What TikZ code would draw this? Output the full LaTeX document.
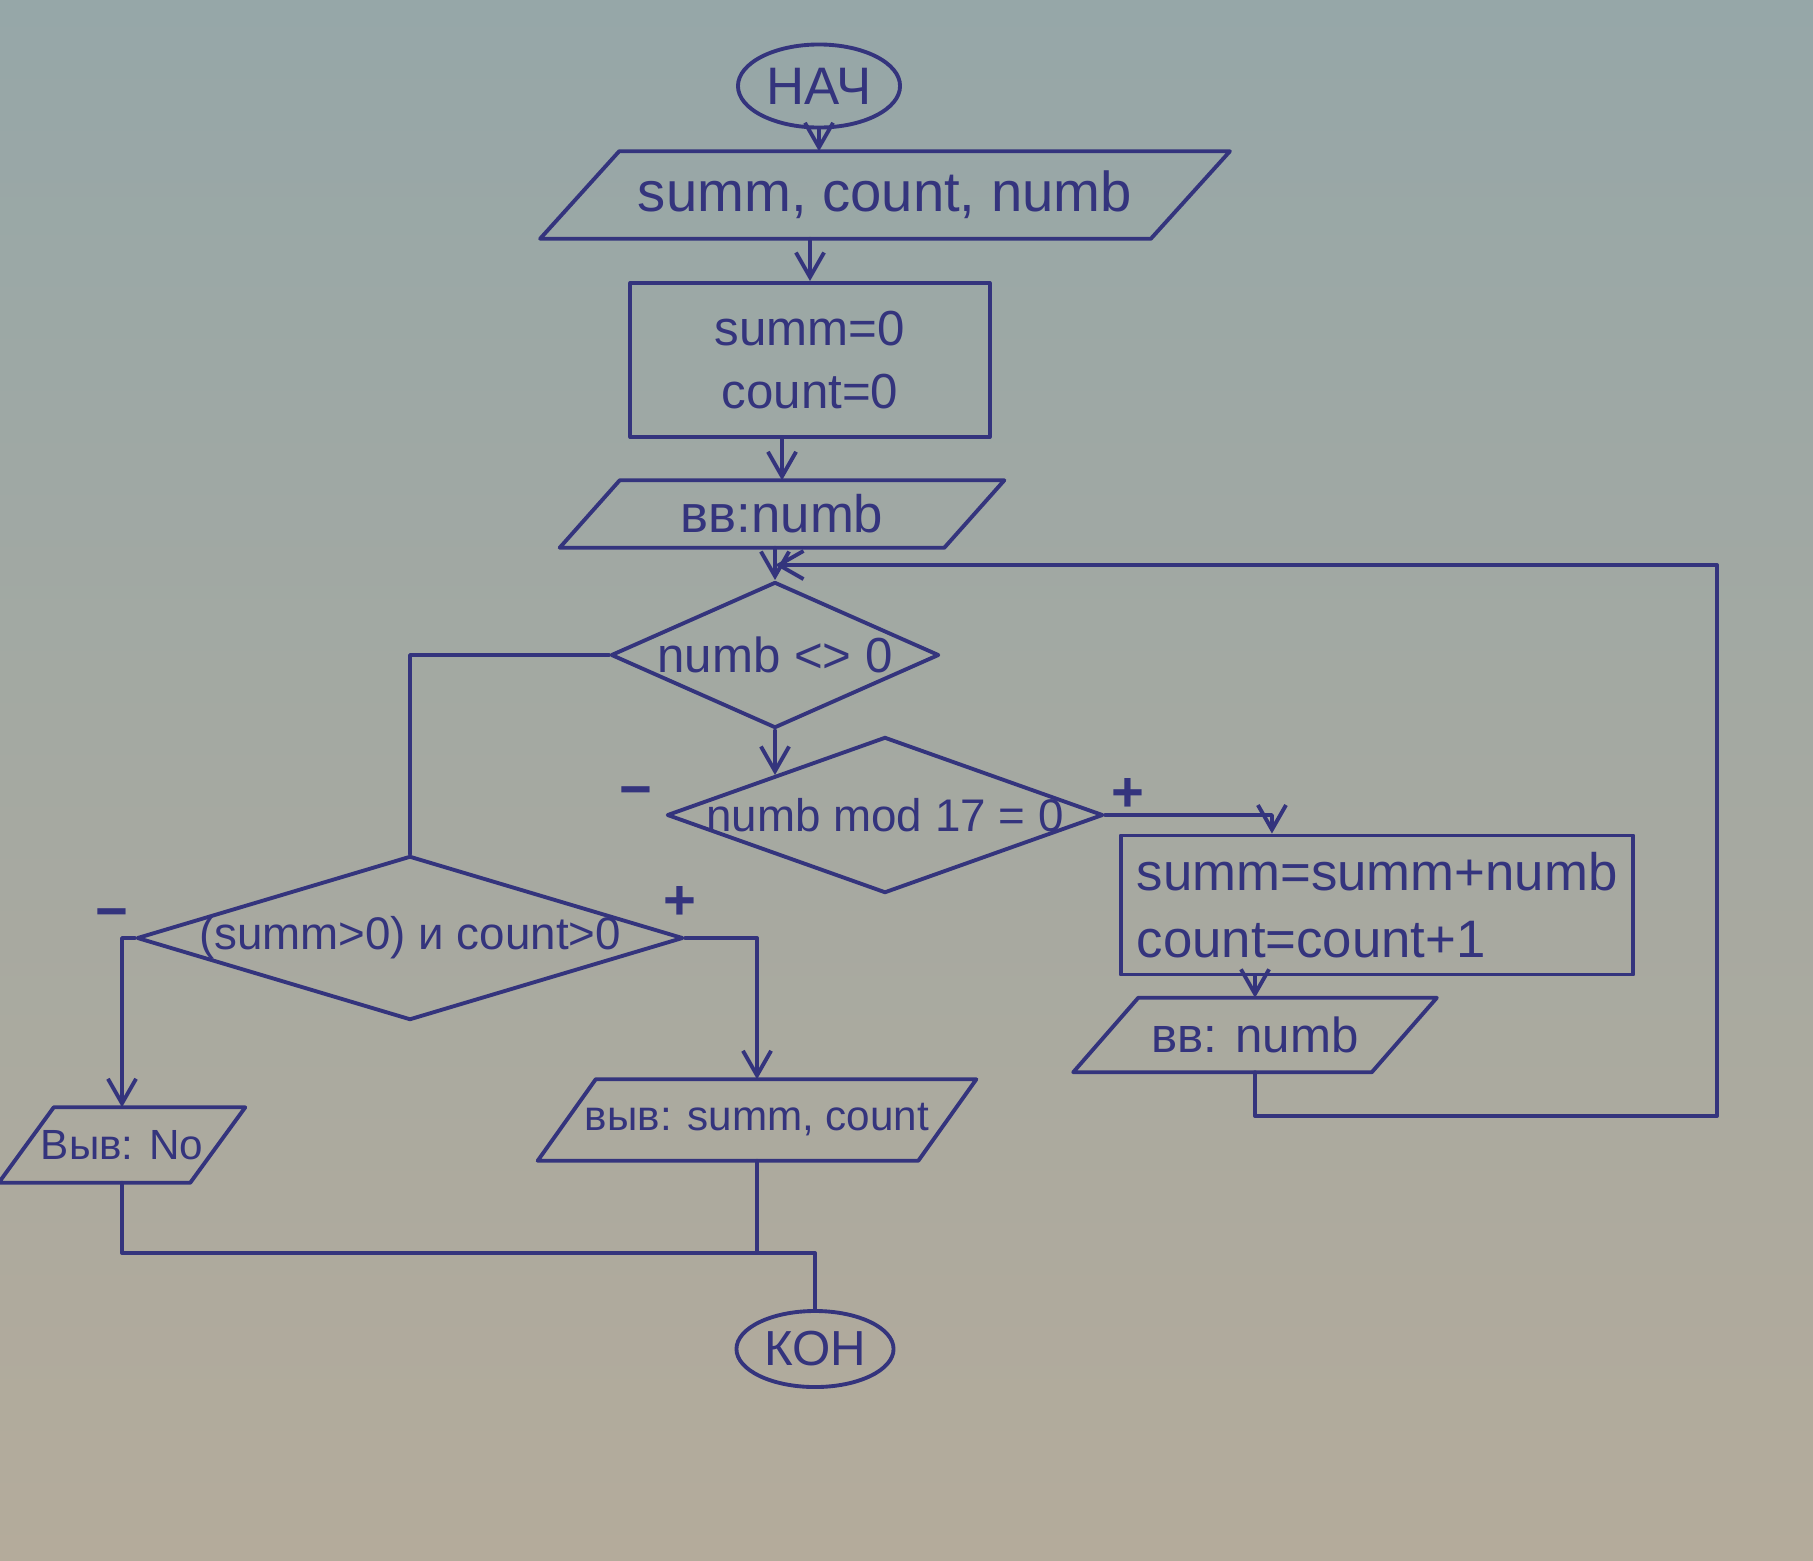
\documentclass[tikz,border=0pt]{standalone}
\usepackage{fontspec}
\setmainfont{Liberation Sans}
\usetikzlibrary{shapes.geometric,arrows.meta}
\definecolor{ink}{RGB}{52,52,125}
\definecolor{bgtop}{RGB}{150,167,168}
\definecolor{bgmid}{RGB}{206,212,206}
\definecolor{bgbot}{RGB}{180,171,155}
\tikzset{
 pen/.style={draw=ink, line width=1.1pt, line join=round, line cap=round},
 arr/.style={pen, -{Straight Barb[length=7pt,width=8pt]}},
 term/.style={ellipse, pen, text=ink, inner sep=0pt},
 procbox/.style={rectangle, pen, text=ink, inner sep=4pt},
 iobox/.style={rectangle, draw=none, text=ink, inner sep=0pt},
 decide/.style={diamond, pen, text=ink, inner sep=0pt},
 sign/.style={text=ink, inner sep=0pt, font=\fontsize{16}{16}\selectfont\bfseries},
}
\newcommand\iopara[2]{\draw[pen] ([xshift=#2]#1.north west) -- (#1.north east) -- ([xshift=-#2]#1.south east) -- (#1.south west) -- cycle;}
\newcommand\dmtxt[1]{\makebox[0pt]{#1}}
\begin{document}
\begin{tikzpicture}[x=0.01cm,y=-0.01cm]
\shade[top color=bgtop, middle color=bgmid, bottom color=bgbot] (0,0) rectangle (1813,1560);
\useasboundingbox (0,0) rectangle (1813,1560);

\node[term, minimum width=1.62cm, minimum height=0.83cm, font=\fontsize{15}{18}\selectfont] (start) at (819,86) {НАЧ};
\node[iobox, minimum width=6.88cm, minimum height=0.86cm, font=\fontsize{16}{19}\selectfont] (in1) at (885,195) {summ, count, numb};
\iopara{in1}{0.79cm}
\node[procbox, minimum width=3.59cm, minimum height=1.54cm, align=center, font=\fontsize{14}{18}\selectfont] (init) at (810,360) {summ=0\\count=0};
\node[iobox, minimum width=4.43cm, minimum height=0.66cm, font=\fontsize{15}{18}\selectfont] (in2) at (782,514) {вв:numb};
\iopara{in2}{0.6cm}
\node[decide, minimum width=3.28cm, minimum height=1.46cm, font=\fontsize{14}{17}\selectfont] (d1) at (775,655) {\dmtxt{numb <> 0}};
\node[decide, minimum width=4.36cm, minimum height=1.56cm, font=\fontsize{13}{16}\selectfont] (d2) at (885,815) {\dmtxt{numb mod 17 = 0}};
\node[procbox, minimum width=5.12cm, minimum height=1.39cm, align=left, font=\fontsize{15}{19}\selectfont] (proc) at (1377,905) {summ=summ+numb\\count=count+1};
\node[iobox, minimum width=3.62cm, minimum height=0.73cm, font=\fontsize{14}{17}\selectfont] (in3) at (1255,1035) {вв: numb};
\iopara{in3}{0.65cm}
\node[decide, minimum width=5.46cm, minimum height=1.64cm, font=\fontsize{13}{16}\selectfont] (d3) at (410,938) {\dmtxt{(summ>0) и count>0}};
\node[iobox, minimum width=2.45cm, minimum height=0.74cm, font=\fontsize{12}{15}\selectfont] (out1) at (122,1145) {Выв: No};
\iopara{out1}{0.55cm}
\node[iobox, minimum width=4.37cm, minimum height=0.8cm, font=\fontsize{12}{15}\selectfont] (out2) at (757,1120) {выв: summ, count};
\iopara{out2}{0.58cm}
\node[term, minimum width=1.57cm, minimum height=0.76cm, font=\fontsize{14}{17}\selectfont] (end) at (815,1349) {КОН};

\node[sign] (m2) at (636,798) {−};
\node[sign] (p2) at (1128,795) {+};
\node[sign] (p3) at (680,903) {+};
\node[sign] (m3) at (112,920) {−};

\draw[arr] (start.south) -- (start |- in1.north);
\draw[arr] (init |- in1.south) -- (init.north);
\draw[arr] (in2 |- init.south) -- (in2.north);
\draw[arr] (d1.north |- in2.south) -- (d1.north);
\coordinate (aux) at (d1.south |- d2.south);
\draw[arr] (d1.south) -- (intersection of d1.south--aux and d2.west--d2.north);
\draw[pen] (d1.west) -| (d3.north);
\draw[arr] (d2.east) -| ([xshift=-1.05cm]proc.north);
\draw[arr] (proc.south -| in3.north) -- (in3.north);
\coordinate (lb) at (1717,1116);
\coordinate (lt) at (1717,565);
\draw[arr] (in3.south) |- (lb) -- (lt) -- (lt -| d1.north);
\draw[arr] (d3.west) -| (out1.north);
\draw[arr] (d3.east) -| (out2.north);
\coordinate (jn) at (0,1253);
\draw[pen] (out1.south) |- (jn -| end.north) -- (end.north);
\draw[pen] (out2.south) -- (out2.south |- jn);
\end{tikzpicture}
\end{document}
